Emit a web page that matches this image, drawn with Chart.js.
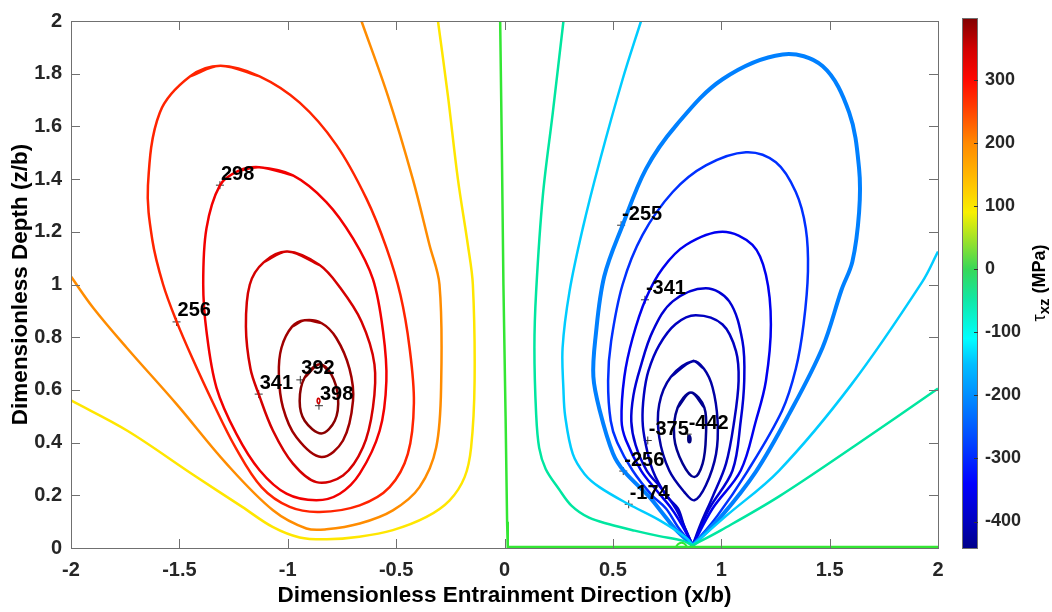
<!DOCTYPE html>
<html lang="en">
<head>
<meta charset="UTF-8">
<title>Shear stress contours</title>
<script src="https://cdn.jsdelivr.net/npm/chart.js"></script>
<style>
  body { margin: 0; background: #fff; }
  #wrap { position: relative; width: 1052px; height: 612px; }
  #main { position: absolute; left: 0; top: 0; }
  #cbar { position: absolute; left: 960px; top: 0; }
</style>
</head>
<body>
<div id="wrap">
  <canvas id="main" width="1052" height="612"></canvas>
  <canvas id="cbar" width="92" height="612"></canvas>
</div>
<script>
// contour lines, [x/b, z/b]
const yellowLine = [[-2.0,0.56],[-1.74,0.445],[-1.44,0.28],[-1.21,0.156],[-1.07,0.08],[-0.945,0.04],[-0.82,0.033],[-0.67,0.043],[-0.515,0.068],[-0.36,0.118],[-0.253,0.181],[-0.184,0.269],[-0.154,0.382],[-0.138,0.634],[-0.146,1.0],[-0.169,1.15],[-0.215,1.40],[-0.261,1.716],[-0.307,2.0]];
const orangeLine = [[-2.0,1.03],[-1.897,0.911],[-1.743,0.76],[-1.513,0.546],[-1.283,0.32],[-1.068,0.143],[-0.914,0.074],[-0.822,0.071],[-0.668,0.093],[-0.515,0.143],[-0.392,0.231],[-0.315,0.382],[-0.292,0.634],[-0.30,1.0],[-0.346,1.15],[-0.423,1.40],[-0.538,1.716],[-0.66,2.0]];
const loop256 = [[-1.31,1.83],[-1.13,1.79],[-0.945,1.69],[-0.776,1.53],[-0.637,1.326],[-0.545,1.14],[-0.48,0.96],[-0.438,0.76],[-0.418,0.55],[-0.446,0.357],[-0.53,0.231],[-0.668,0.162],[-0.853,0.137],[-0.991,0.156],[-1.12,0.23],[-1.24,0.38],[-1.35,0.56],[-1.44,0.72],[-1.513,0.86],[-1.575,1.0],[-1.625,1.17],[-1.645,1.376],[-1.59,1.653],[-1.45,1.79],[-1.31,1.83]];
const loop298 = [[-1.132,1.445],[-0.976,1.414],[-0.822,1.313],[-0.699,1.175],[-0.607,1.02],[-0.56,0.82],[-0.545,0.634],[-0.576,0.445],[-0.668,0.282],[-0.76,0.206],[-0.868,0.181],[-1.006,0.206],[-1.129,0.294],[-1.237,0.433],[-1.329,0.609],[-1.375,0.823],[-1.39,1.0],[-1.375,1.213],[-1.313,1.376],[-1.23,1.43],[-1.132,1.445]];
const loop341 = [[-1.001,1.125],[-0.853,1.074],[-0.76,0.99],[-0.66,0.86],[-0.60,0.697],[-0.607,0.533],[-0.653,0.382],[-0.745,0.275],[-0.868,0.25],[-0.976,0.32],[-1.068,0.445],[-1.134,0.584],[-1.172,0.68],[-1.193,0.84],[-1.175,1.0],[-1.11,1.085],[-1.001,1.125]];
const loop370 = [[-0.922,0.864],[-0.845,0.854],[-0.776,0.797],[-0.715,0.68],[-0.699,0.558],[-0.745,0.408],[-0.845,0.345],[-0.96,0.42],[-1.022,0.533],[-1.041,0.659],[-1.029,0.76],[-0.98,0.84],[-0.922,0.864]];
const loop392 = [[-0.853,0.697],[-0.799,0.659],[-0.768,0.571],[-0.783,0.483],[-0.845,0.435],[-0.922,0.483],[-0.945,0.558],[-0.922,0.647],[-0.853,0.697]];
const loop398 = [[-0.858,0.568],[-0.852,0.562],[-0.853,0.552],[-0.859,0.548],[-0.864,0.555],[-0.863,0.565],[-0.858,0.568]];

const greenLine = [[-0.02,2.0],[-0.012,1.5],[-0.005,1.0],[0.005,0.5],[0.012,0.1],[0.015,0.004],[2.0,0.004]];
const greenBump = [[0.79,0.002],[0.80,0.014],[0.815,0.02],[0.83,0.016],[0.843,0.004]];
const tealLeft = [[0.272,2.0],[0.223,1.653],[0.177,1.338],[0.146,0.974],[0.138,0.76],[0.146,0.508],[0.16,0.38],[0.19,0.30],[0.25,0.225],[0.31,0.16],[0.39,0.115],[0.484,0.09],[0.60,0.066],[0.714,0.045],[0.82,0.028],[0.868,0.01]];
const tealRight = [[0.868,0.01],[1.0,0.068],[1.267,0.196],[1.62,0.39],[2.0,0.605]];
const cyanLeft = [[0.63,2.0],[0.545,1.779],[0.438,1.464],[0.361,1.213],[0.30,0.974],[0.268,0.76],[0.272,0.6],[0.28,0.5],[0.315,0.357],[0.37,0.28],[0.438,0.231],[0.573,0.166],[0.714,0.106],[0.837,0.04],[0.868,0.01]];
const cyanRight = [[0.868,0.01],[1.02,0.12],[1.267,0.294],[1.6,0.62],[1.928,1.011],[2.0,1.125]];
const loopM255 = [[0.868,0.01],[0.79,0.07],[0.73,0.131],[0.668,0.194],[0.553,0.29],[0.50,0.36],[0.44,0.52],[0.41,0.65],[0.42,0.8],[0.46,1.03],[0.545,1.225],[0.653,1.439],[0.791,1.603],[1.006,1.779],[1.283,1.873],[1.467,1.829],[1.59,1.653],[1.636,1.439],[1.636,1.275],[1.605,1.087],[1.555,0.98],[1.467,0.76],[1.313,0.508],[1.16,0.29],[1.0,0.12],[0.868,0.01]];
const loopM300 = [[0.868,0.01],[0.80,0.08],[0.745,0.15],[0.68,0.2],[0.591,0.294],[0.52,0.40],[0.49,0.483],[0.478,0.634],[0.492,0.785],[0.545,1.0],[0.637,1.188],[0.776,1.351],[0.929,1.452],[1.114,1.502],[1.252,1.464],[1.344,1.351],[1.39,1.213],[1.40,1.049],[1.38,0.85],[1.344,0.68],[1.28,0.52],[1.12,0.29],[0.98,0.12],[0.868,0.01]];
const loopM341 = [[0.868,0.01],[0.82,0.085],[0.77,0.15],[0.70,0.22],[0.63,0.294],[0.56,0.41],[0.54,0.483],[0.553,0.65],[0.591,0.797],[0.653,0.948],[0.73,1.062],[0.837,1.15],[1.006,1.2],[1.144,1.15],[1.206,1.037],[1.229,0.848],[1.206,0.634],[1.16,0.483],[1.09,0.294],[0.96,0.15],[0.868,0.01]];
const loopM358 = [[0.868,0.01],[0.825,0.09],[0.79,0.15],[0.72,0.23],[0.656,0.294],[0.605,0.39],[0.585,0.48],[0.595,0.58],[0.625,0.68],[0.684,0.823],[0.776,0.936],[0.929,0.986],[1.037,0.936],[1.098,0.785],[1.106,0.634],[1.09,0.483],[1.052,0.294],[0.945,0.15],[0.868,0.01]];
const loopM375 = [[0.868,0.01],[0.83,0.08],[0.80,0.15],[0.745,0.2],[0.684,0.294],[0.65,0.4],[0.637,0.483],[0.643,0.58],[0.664,0.672],[0.714,0.77],[0.79,0.85],[0.883,0.883],[1.006,0.848],[1.068,0.747],[1.08,0.634],[1.06,0.483],[1.022,0.32],[0.96,0.194],[0.906,0.093],[0.868,0.01]];
const loopM400 = [[0.868,0.709],[0.92,0.68],[0.96,0.609],[0.983,0.483],[0.976,0.357],[0.929,0.238],[0.876,0.181],[0.829,0.213],[0.76,0.294],[0.714,0.42],[0.714,0.546],[0.768,0.65],[0.868,0.709]];
const loopM420 = [[0.86,0.59],[0.799,0.533],[0.783,0.42],[0.822,0.32],[0.876,0.269],[0.914,0.32],[0.929,0.42],[0.922,0.533],[0.86,0.59]];
const loopM442 = [[0.853,0.425],[0.849,0.414],[0.853,0.402],[0.857,0.414],[0.853,0.425]];

// contour labels (clabel text and its "+" anchor)
const labelText = ['298', '256', '341', '392', '398', '-255', '-341', '-375', '-442', '-256', '-174'];
const labelX = [-1.313, -1.513, -1.134, -0.942, -0.856, 0.538, 0.648, 0.661, 0.845, 0.548, 0.573];
const labelY = [1.377, 0.858, 0.584, 0.638, 0.540, 1.225, 0.942, 0.408, 0.432, 0.292, 0.166];

// colorbar
const cbMin = -442, cbMax = 398;
const cbTicks = [-400, -300, -200, -100, 0, 100, 200, 300];
const cbStops = [-442, -400, -340, -230, -150, -110, -50, 0, 40, 90, 130, 200, 260, 300, 350, 398];
const cbColors = ['#00008a', '#0000bf', '#0000ff', '#0070ff', '#00bfff', '#00ffff', '#10e8a8', '#38d858', '#90e030', '#f8f000', '#ffc800', '#ff8800', '#ff3800', '#ff0800', '#d00000', '#800000'];

const FONT = '"Liberation Sans", Arial, sans-serif';

// closed loops get one extra point at each end so the spline has no corner at the seam
function line(pts, color, width, opts) {
  opts = opts || {};
  let p = pts;
  if (opts.closed) p = [pts[pts.length - 2]].concat(pts, [pts[1]]);
  return {
    data: p.map(q => ({x: q[0], y: q[1]})),
    showLine: true,
    borderColor: color,
    borderWidth: width,
    pointRadius: 0,
    tension: opts.tension === undefined ? 0.35 : opts.tension,
    fill: false
  };
}
const C = {closed: true};

const datasets = [
  line(yellowLine, '#ffe600', 2.5),
  line(orangeLine, '#ff8c00', 2.5),
  line(loop256, '#ff2400', 2.5, C),
  line(loop298, '#f20000', 2.5, C),
  line(loop341, '#d40000', 2.5, C),
  line(loop370, '#a00000', 2.5, C),
  line(loop392, '#8a0000', 2.5, C),
  line(loop398, '#d00000', 1.5, C),
  line(greenLine, '#33e633', 2.5, {tension: 0}),
  line(greenBump, '#33e633', 2),
  line(tealLeft, '#00e6a0', 2.5),
  line(tealRight, '#00e6a0', 2.5),
  line(cyanLeft, '#00ccff', 2.5),
  line(cyanRight, '#00ccff', 2.5),
  line(loopM255, '#0080ff', 4),
  line(loopM300, '#0030ff', 2.5),
  line(loopM341, '#0000f0', 2.5),
  line(loopM358, '#0000d4', 2.5),
  line(loopM375, '#0000c0', 2.5),
  line(loopM400, '#0000a4', 2.5, C),
  line(loopM420, '#000090', 2.5, C),
  line(loopM442, '#000080', 3, C),
  {
    data: labelX.map((v, i) => ({x: v, y: labelY[i]})),
    showLine: false,
    pointStyle: 'cross',
    pointRadius: 4,
    borderColor: '#333',
    borderWidth: 1
  }
];

// MATLAB-like box with inward ticks
const boxPlugin = {
  id: 'box',
  afterDraw(chart) {
    const {ctx, chartArea: a, scales: {x, y}} = chart;
    ctx.save();
    ctx.strokeStyle = '#707070';
    ctx.lineWidth = 1;
    ctx.strokeRect(a.left + 0.5, a.top + 0.5, a.right - a.left, a.bottom - a.top);
    ctx.beginPath();
    x.ticks.forEach((t, i) => {
      const p = Math.round(x.getPixelForTick(i)) + 0.5;
      ctx.moveTo(p, a.bottom); ctx.lineTo(p, a.bottom - 9);
      ctx.moveTo(p, a.top); ctx.lineTo(p, a.top + 9);
    });
    y.ticks.forEach((t, i) => {
      const p = Math.round(y.getPixelForTick(i)) + 0.5;
      ctx.moveTo(a.left, p); ctx.lineTo(a.left + 9, p);
      ctx.moveTo(a.right, p); ctx.lineTo(a.right - 9, p);
    });
    ctx.stroke();
    ctx.restore();
  }
};

const labelPlugin = {
  id: 'clabels',
  afterDraw(chart) {
    const {ctx, scales: {x, y}} = chart;
    ctx.save();
    ctx.font = 'bold 20px ' + FONT;
    ctx.fillStyle = '#000';
    ctx.textAlign = 'left';
    ctx.textBaseline = 'middle';
    labelText.forEach((t, i) => {
      ctx.fillText(t, x.getPixelForValue(labelX[i]) + 1, y.getPixelForValue(labelY[i]) - 11);
    });
    ctx.restore();
  }
};

const tickFont = {family: FONT, size: 20, weight: 'bold'};
const plain = v => String(Number(v.toFixed(1)));

new Chart(document.getElementById('main'), {
  type: 'scatter',
  data: {datasets},
  options: {
    responsive: false,
    animation: false,
    layout: {padding: {top: 18, right: 114, left: 0, bottom: 0}},
    plugins: {legend: {display: false}, tooltip: {enabled: false}},
    scales: {
      x: {
        type: 'linear', min: -2, max: 2,
        ticks: {stepSize: 0.5, padding: 10, autoSkip: false, maxRotation: 0, color: '#262626', font: tickFont, callback: plain},
        grid: {display: false, drawTicks: false},
        border: {display: false},
        title: {display: true, text: 'Dimensionless Entrainment Direction (x/b)', color: '#000', font: {family: FONT, size: 22.5, weight: 'bold'}, padding: {top: 0, bottom: 3}},
        afterFit(s) { s.height = 64; }
      },
      y: {
        type: 'linear', min: 0, max: 2,
        ticks: {stepSize: 0.2, padding: 9, autoSkip: false, color: '#262626', font: tickFont, callback: plain},
        grid: {display: false, drawTicks: false},
        border: {display: false},
        title: {display: true, text: 'Dimensionless Depth (z/b)', color: '#000', font: {family: FONT, size: 22.5, weight: 'bold'}, padding: {top: 7, bottom: 0}},
        afterFit(s) { s.width = 71; }
      }
    }
  },
  plugins: [boxPlugin, labelPlugin]
});

// colorbar
const cbPlugin = {
  id: 'cbar',
  afterDraw(chart) {
    const {ctx, chartArea: a, scales: {y}} = chart;
    ctx.save();
    ctx.strokeStyle = '#707070';
    ctx.lineWidth = 1;
    ctx.strokeRect(a.left + 0.5, a.top + 0.5, a.right - a.left - 1, a.bottom - a.top);
    ctx.beginPath();
    y.ticks.forEach((t, i) => {
      const p = Math.round(y.getPixelForTick(i)) + 0.5;
      ctx.moveTo(a.right, p); ctx.lineTo(a.right - 4, p);
    });
    ctx.strokeStyle = '#333';
    ctx.stroke();
    // title: tau_xz (MPa), reading upwards
    ctx.translate(80, (a.top + a.bottom) / 2);
    ctx.rotate(-Math.PI / 2);
    ctx.fillStyle = '#000';
    ctx.textBaseline = 'middle';
    const parts = [['\u03c4', '18px ' + FONT, 0], ['xz', 'bold 15px ' + FONT, 5], [' (MPa)', 'bold 18px ' + FONT, 0]];
    let total = 0;
    parts.forEach(p => { ctx.font = p[1]; total += ctx.measureText(p[0]).width; });
    let cx = -total / 2;
    parts.forEach(p => {
      ctx.font = p[1];
      ctx.fillText(p[0], cx, p[2]);
      cx += ctx.measureText(p[0]).width;
    });
    ctx.restore();
  }
};

new Chart(document.getElementById('cbar'), {
  type: 'bar',
  data: {
    labels: ['cb'],
    datasets: [{
      data: [[cbMin, cbMax]],
      barPercentage: 1,
      categoryPercentage: 1,
      borderWidth: 0,
      backgroundColor(c) {
        const chart = c.chart;
        if (!chart.chartArea) return '#888';
        const y = chart.scales.y;
        const g = chart.ctx.createLinearGradient(0, y.getPixelForValue(cbMin), 0, y.getPixelForValue(cbMax));
        cbStops.forEach((v, i) => g.addColorStop((v - cbMin) / (cbMax - cbMin), cbColors[i]));
        return g;
      }
    }]
  },
  options: {
    responsive: false,
    animation: false,
    layout: {padding: {top: 18, bottom: 64, left: 2, right: 0}},
    plugins: {legend: {display: false}, tooltip: {enabled: false}},
    scales: {
      x: {display: false},
      y: {
        position: 'right', min: cbMin, max: cbMax,
        afterBuildTicks(s) { s.ticks = cbTicks.map(v => ({value: v})); },
        ticks: {padding: 7, autoSkip: false, color: '#262626', font: {family: FONT, size: 18, weight: 'bold'}},
        grid: {display: false, drawTicks: false},
        border: {display: false},
        afterFit(s) { s.width = 74; }
      }
    }
  },
  plugins: [cbPlugin]
});
</script>
</body>
</html>
